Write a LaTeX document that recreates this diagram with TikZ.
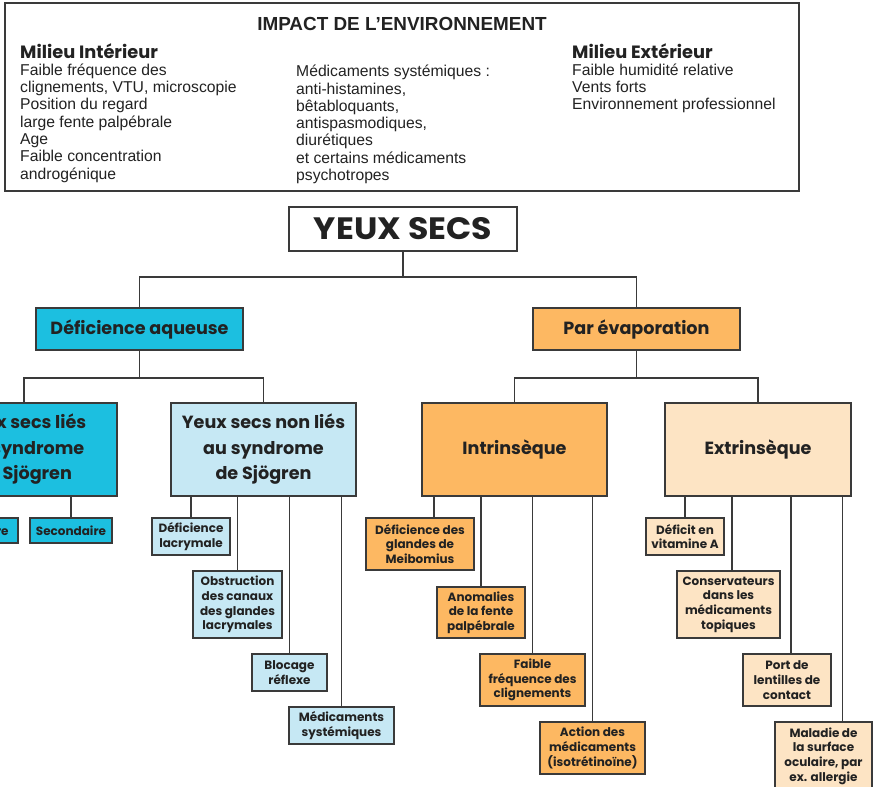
\documentclass[tikz,border=0pt]{standalone}
\usepackage{fontspec}
\usepackage{graphicx}
\setmainfont{Liberation Sans}
\newfontfamily\boxfont{Poppins}
\definecolor{cyanbox}{HTML}{1CBFE0}
\definecolor{lightblue}{HTML}{C6E8F4}
\definecolor{orangebox}{HTML}{FDB862}
\definecolor{peach}{HTML}{FDE4C4}
\definecolor{edgecol}{HTML}{3A3A3A}
\definecolor{txt}{HTML}{222222}
\newcommand\fsmall{\boxfont\bfseries\fontsize{12}{14.6}\selectfont}
\newcommand\fmid{\boxfont\bfseries\fontsize{17.6}{25.5}\selectfont}
\newcommand\flist{\fontsize{15.7}{17.3}\selectfont}
\tikzset{
  box/.style={draw=edgecol, line width=1.1pt, inner sep=0pt, align=center, text=txt},
  conn/.style={draw=edgecol, line width=1.1pt},
  leaf/.style={box, font=\fsmall},
  mid/.style={box, font=\fmid}
}
\begin{document}
\begin{tikzpicture}[x=1pt,y=-1pt]
\clip (0,0) rectangle (873,787);
\fill[white] (0,0) rectangle (873,787);

% environment box
\node[draw=edgecol, line width=1.1pt, minimum width=794pt, minimum height=188pt, inner sep=0pt] (env) at (402,97) {};
\node[anchor=base, inner sep=0pt, text=txt, font=\bfseries\fontsize{18.9}{20}\selectfont] (title) at (402,30.5) {IMPACT DE L’ENVIRONNEMENT};
\node[anchor=base west, inner sep=0pt, text=txt, font=\boxfont\bfseries\fontsize{17.8}{20}\selectfont] (mih) at (20,58) {Milieu Intérieur};
\node[anchor=base west, inner sep=0pt, text=txt, font=\boxfont\bfseries\fontsize{17.8}{20}\selectfont] (meh) at (572,58) {Milieu Extérieur};
\node[anchor=north west, inner sep=0pt, align=left, text=txt, font=\flist] (mil) at (20,63.5) {Faible fréquence des\\clignements, VTU, microscopie\\Position du regard\\large fente palpébrale\\Age\\Faible concentration\\androgénique};
\node[anchor=north west, inner sep=0pt, align=left, text=txt, font=\flist] (med) at (296,65) {Médicaments systémiques :\\anti-histamines,\\bêtabloquants,\\antispasmodiques,\\diurétiques\\et certains médicaments\\psychotropes};
\node[anchor=north west, inner sep=0pt, align=left, text=txt, font=\flist] (mex) at (572,63.5) {Faible humidité relative\\Vents forts\\Environnement professionnel};

% root
\node[box, fill=white, minimum width=228pt, minimum height=44pt, font=\boxfont\bfseries] (yeux) at (403,229) {\resizebox{178pt}{22pt}{YEUX SECS}};

% level 2
\node[mid, fill=cyanbox, minimum width=207pt, minimum height=42pt] (def) at (139.5,329) {Déficience aqueuse};
\node[mid, fill=orangebox, minimum width=207pt, minimum height=42pt] (evap) at (636.5,329) {Par évaporation};

% level 3
\node[mid, fill=cyanbox, minimum width=186pt, minimum height=93pt] (sjo) at (24,449.5) {Yeux secs liés\\au syndrome\\de Sjögren};
\node[mid, fill=lightblue, minimum width=185pt, minimum height=93pt] (nsjo) at (263.5,449.5) {Yeux secs non liés\\au syndrome\\de Sjögren};
\node[mid, fill=orangebox, minimum width=185pt, minimum height=93pt] (intr) at (514.5,449.5) {Intrinsèque};
\node[mid, fill=peach, minimum width=186pt, minimum height=93pt] (extr) at (758,449.5) {Extrinsèque};

% level 4 - Sjogren
\node[leaf, fill=cyanbox, minimum width=72pt, minimum height=25pt] (prim) at (-18,530.5) {Primaire};
\node[leaf, fill=cyanbox, minimum width=82pt, minimum height=25pt] (sec) at (71,530.5) {Secondaire};
% non Sjogren
\node[leaf, fill=lightblue, minimum width=78pt, minimum height=37pt] (lacr) at (191,536.5) {Déficience\\lacrymale};
\node[leaf, fill=lightblue, minimum width=89pt, minimum height=67pt] (obst) at (237.5,604.5) {Obstruction\\des canaux\\des glandes\\lacrymales};
\node[leaf, fill=lightblue, minimum width=75pt, minimum height=37pt] (bloc) at (289.5,672.5) {Blocage\\réflexe};
\node[leaf, fill=lightblue, minimum width=105pt, minimum height=37pt] (msys) at (341.5,725.5) {Médicaments\\systémiques};
% intrinseque
\node[leaf, fill=orangebox, minimum width=108pt, minimum height=52pt] (meib) at (420,544) {Déficience des\\glandes de\\Meibomius};
\node[leaf, fill=orangebox, minimum width=88pt, minimum height=51pt] (anom) at (481,612.5) {Anomalies\\de la fente\\palpébrale};
\node[leaf, fill=orangebox, minimum width=105pt, minimum height=52pt] (freq) at (532.5,680) {Faible\\fréquence des\\clignements};
\node[leaf, fill=orangebox, minimum width=105pt, minimum height=52pt] (acti) at (592.5,748) {Action des\\médicaments\\(isotrétinoïne)};
% extrinseque
\node[leaf, fill=peach, minimum width=78pt, minimum height=37pt] (vita) at (685,536.5) {Déficit en\\vitamine A};
\node[leaf, fill=peach, minimum width=103pt, minimum height=67pt] (cons) at (728.5,604.5) {Conservateurs\\dans les\\médicaments\\topiques};
\node[leaf, fill=peach, minimum width=88pt, minimum height=52pt] (port) at (787,680) {Port de\\lentilles de\\contact};
\node[leaf, fill=peach, minimum width=97pt, minimum height=68pt] (mala) at (823.5,756) {Maladie de\\la surface\\oculaire, par\\ex. allergie};

% connectors level 1-2
\coordinate (j0) at (403,277);
\draw[conn] (yeux.south) -- (j0);
\draw[conn] (def.north) |- (j0) -| (evap.north);
\coordinate (j1) at (139.5,378);
\coordinate (j2) at (636.5,378);
\draw[conn] (def.south) -- (j1);
\draw[conn] (sjo.north) |- (j1) -| (nsjo.north);
\draw[conn] (evap.south) -- (j2);
\draw[conn] (intr.north) |- (j2) -| (extr.north);

% leaves
\foreach \c/\p in {prim/sjo, sec/sjo, lacr/nsjo, obst/nsjo, bloc/nsjo, msys/nsjo, anom/intr, freq/intr, acti/intr, vita/extr}
  \draw[conn] (\c.north) -- (\c.north |- \p.south);
\path ([xshift=14pt]meib.north) coordinate (tmeib);
\path ([xshift=3.5pt]cons.north) coordinate (tcons);
\path ([xshift=4pt]port.north) coordinate (tport);
\path ([xshift=19pt]mala.north) coordinate (tmala);
\draw[conn] (tmeib) -- (tmeib |- intr.south);
\draw[conn] (tcons) -- (tcons |- extr.south);
\draw[conn] (tport) -- (tport |- extr.south);
\draw[conn] (tmala) -- (tmala |- extr.south);
\end{tikzpicture}
\end{document}
